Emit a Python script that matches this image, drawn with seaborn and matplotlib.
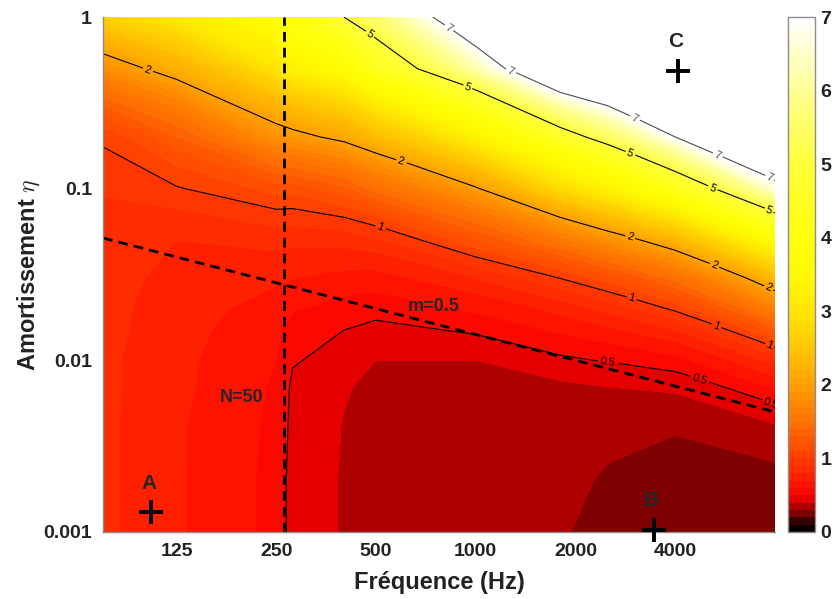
import numpy as np
import matplotlib
matplotlib.use("Agg")
import matplotlib.pyplot as plt
import seaborn as sns
from matplotlib.colors import LinearSegmentedColormap, ListedColormap, Normalize
from matplotlib.cm import ScalarMappable

# ---------------- data ----------------
freq = [75, 125, 250, 280, 400, 500, 1000, 1800, 2500, 4000, 8000]
eta = [0.001, 0.002, 0.004, 0.007, 0.01, 0.015, 0.02, 0.03, 0.05, 0.1, 0.2, 0.5, 1.0]

# one column of values per frequency (bottom -> top in eta)
z_f75 = [0.82, 0.82, 0.82, 0.82, 0.82, 0.83, 0.83, 0.84, 0.86, 0.91, 1.03, 1.8, 2.7]
z_f125 = [0.71, 0.71, 0.71, 0.72, 0.72, 0.73, 0.74, 0.76, 0.80, 0.99, 1.3, 2.2, 3.1]
z_f250 = [0.56, 0.56, 0.57, 0.58, 0.60, 0.62, 0.65, 0.72, 0.84, 1.15, 1.85, 3.0, 3.9]
z_f280 = [0.46, 0.46, 0.47, 0.48, 0.51, 0.56, 0.61, 0.70, 0.83, 1.15, 1.9, 3.3, 4.2]
z_f400 = [0.39, 0.39, 0.395, 0.41, 0.45, 0.50, 0.56, 0.67, 0.84, 1.28, 2.1, 3.7, 5.0]
z_f500 = [0.34, 0.34, 0.35, 0.37, 0.40, 0.47, 0.54, 0.66, 0.88, 1.45, 2.35, 4.4, 5.6]
z_f1000 = [0.33, 0.33, 0.34, 0.36, 0.40, 0.52, 0.62, 0.80, 1.2, 1.97, 3.3, 6.2, 8.5]
z_f1800 = [0.31, 0.32, 0.34, 0.38, 0.48, 0.62, 0.74, 1.0, 1.55, 2.8, 4.6, 9.0, 13.0]
z_f2500 = [0.26, 0.29, 0.33, 0.40, 0.51, 0.68, 0.84, 1.15, 1.8, 3.3, 5.4, 10.0, 14.0]
z_f4000 = [0.22, 0.25, 0.31, 0.42, 0.57, 0.80, 1.03, 1.45, 2.25, 4.3, 7.0, 12.0, 16.0]
z_f8000 = [0.24, 0.27, 0.38, 0.62, 0.85, 1.25, 1.65, 2.3, 3.7, 6.6, 10.0, 16.0, 20.0]

contour_levels = [0.5, 1, 2, 5, 7]
cbar_ticks = [0, 1, 2, 3, 4, 5, 6, 7]

xtick_vals = [125, 250, 500, 1000, 2000, 4000]
xtick_labels = ["125", "250", "500", "1000", "2000", "4000"]
ytick_vals = [0.001, 0.01, 0.1, 1]
ytick_labels = ["0.001", "0.01", "0.1", "1"]

# guide lines
n50_freq = [264, 264]
n50_eta = [0.001, 1.0]
m05_freq = [75, 8000]
m05_eta = [0.0516, 0.0050]

# marked points
pt_names = ["A", "B", "C"]
pt_freq = [105, 3460, 4080]
pt_eta = [0.0013, 0.00103, 0.485]

# ---------------- styling ----------------
sns.set_style("white")
plt.rcParams["font.family"] = ["Liberation Sans", "DejaVu Sans"]
plt.rcParams["mathtext.fontset"] = "cm"

Z = np.array([z_f75, z_f125, z_f250, z_f280, z_f400, z_f500, z_f1000,
              z_f1800, z_f2500, z_f4000, z_f8000]).T

anchors = [
    (0.0, (0, 0, 0)), (0.1, (0.12, 0, 0)), (0.2, (0.38, 0, 0)),
    (0.3, (0.62, 0, 0)), (0.4, (0.85, 0, 0)), (0.5, (0.97, 0, 0)),
    (0.6, (1, 0.06, 0)), (1.0, (1, 0.24, 0)), (1.5, (1, 0.45, 0)),
    (2.0, (1, 0.63, 0)), (2.5, (1, 0.78, 0)), (3.0, (1, 0.9, 0)),
    (3.5, (1, 0.98, 0)), (4.0, (1, 1, 0.04)), (5.0, (1, 1, 0.22)),
    (6.0, (1, 1, 0.58)), (7.0, (1, 1, 1)),
]
cmap = LinearSegmentedColormap.from_list("hotmod", [(v / 7.0, c) for v, c in anchors])
cmap.set_over("white")
levels = np.round(np.arange(0, 7.0001, 0.1), 2)

fig = plt.figure(figsize=(8.38, 5.99), dpi=100)
ax = fig.add_axes([103 / 838, 67 / 599, 672 / 838, 515 / 599])

ax.contourf(freq, eta, Z, levels=levels, cmap=cmap, extend="max", antialiased=False)
ax.set_xscale("log")
ax.set_yscale("log")
ax.set_xlim(75, 8000)
ax.set_ylim(0.001, 1)

cs = ax.contour(freq, eta, Z, levels=contour_levels,
                colors=["k", "k", "k", "k", "0.3"], linewidths=0.8)
label_pos = [
    (103.5, 0.525), (588, 0.137), (2907, 0.0503), (5170, 0.0336), (7676, 0.0268),
    (512, 0.0575), (2937, 0.0225), (5317, 0.0157), (7730, 0.01245),
    (471, 0.755), (937, 0.376), (2907, 0.157), (5170, 0.101), (7676, 0.0752),
    (833, 0.875), (1290, 0.511), (2968, 0.241), (5317, 0.153), (7676, 0.115),
    (2478, 0.00903), (4700, 0.00748), (7676, 0.00528),
]
ax.clabel(cs, fmt=lambda v: f"{v:g}", manual=label_pos, fontsize=8,
          inline=True, inline_spacing=2)

dash = (0, (3.5, 2.2))
sns.lineplot(x=n50_freq, y=n50_eta, ax=ax, color="k", lw=2, linestyle=dash,
             estimator=None, sort=False)
sns.lineplot(x=m05_freq, y=m05_eta, ax=ax, color="k", lw=2, linestyle=dash,
             estimator=None, sort=False)

ax.text(196, 0.00604, "N=50", ha="center", va="center", fontsize=13, fontweight="bold")
ax.text(745, 0.0207, "m=0.5", ha="center", va="center", fontsize=13, fontweight="bold")

ax.plot(pt_freq, pt_eta, linestyle="none", marker="+", markersize=17,
        markeredgewidth=2.8, color="k", clip_on=False, zorder=5)
for name, f, e in zip(pt_names, pt_freq, pt_eta):
    ax.annotate(name, (f, e), xytext=(-2, 21), textcoords="offset points",
                ha="center", va="center", fontsize=15, fontweight="bold")

ax.set_xticks(xtick_vals)
ax.set_xticklabels(xtick_labels)
ax.set_yticks(ytick_vals)
ax.set_yticklabels(ytick_labels)
ax.minorticks_off()
ax.tick_params(length=0, labelsize=14, pad=8)
for lab in ax.get_xticklabels() + ax.get_yticklabels():
    lab.set_fontweight("bold")
    lab.set_color("#222222")

ax.set_xlabel("Fréquence (Hz)", fontsize=17, fontweight="bold", labelpad=8, color="#222222")
ax.set_ylabel("Amortissement $\\eta$", fontsize=17, fontweight="bold", labelpad=1, color="#222222")

for side in ["top", "right"]:
    ax.spines[side].set_visible(False)
for side in ["left", "bottom"]:
    ax.spines[side].set_color("0.55")
    ax.spines[side].set_linewidth(1.0)

# colorbar
mid = (levels[:-1] + levels[1:]) / 2.0
cb_cmap = ListedColormap(cmap(mid / 7.0))
cax = fig.add_axes([788 / 838, 67 / 599, 27 / 838, 515 / 599])
sm = ScalarMappable(norm=Normalize(0, 7), cmap=cb_cmap)
cb = fig.colorbar(sm, cax=cax, ticks=cbar_ticks)
cb.outline.set_edgecolor("0.55")
cb.outline.set_linewidth(1.0)
cax.tick_params(direction="in", length=3, color="0.4", labelsize=14, pad=4)
for lab in cax.get_yticklabels():
    lab.set_fontweight("bold")
    lab.set_color("#222222")

fig.savefig("out.png", dpi=100)
